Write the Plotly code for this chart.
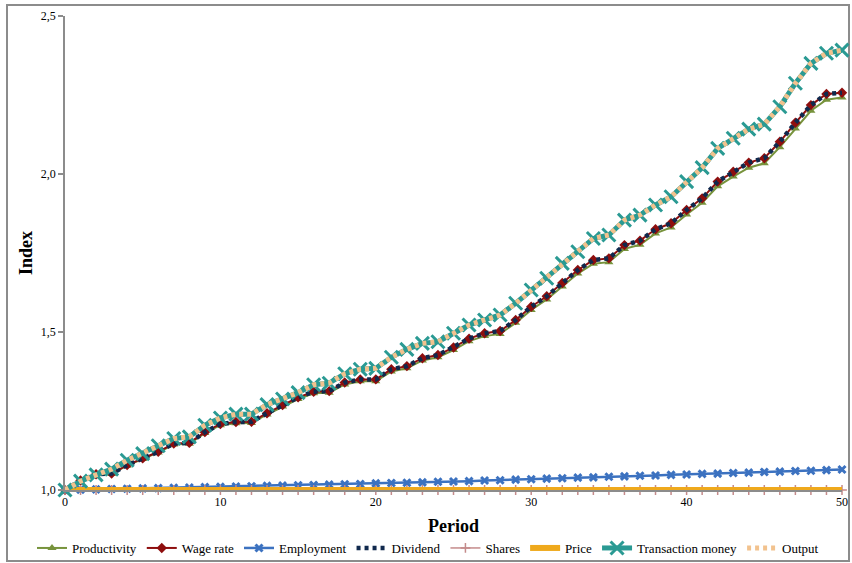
import plotly.graph_objects as go

periods = list(range(51))

productivity = [1.000, 1.029, 1.049, 1.051, 1.077, 1.098, 1.119, 1.144, 1.146, 1.180,
                1.205, 1.211, 1.212, 1.239, 1.264, 1.288, 1.306, 1.308, 1.334, 1.344,
                1.344, 1.375, 1.385, 1.410, 1.420, 1.443, 1.471, 1.487, 1.494, 1.529,
                1.570, 1.603, 1.644, 1.685, 1.716, 1.721, 1.763, 1.776, 1.812, 1.831,
                1.872, 1.909, 1.961, 1.992, 2.020, 2.034, 2.085, 2.144, 2.200, 2.235,
                2.242]

wage_rate = [1.000, 1.030, 1.050, 1.052, 1.079, 1.100, 1.121, 1.147, 1.149, 1.183,
             1.209, 1.215, 1.216, 1.243, 1.269, 1.293, 1.311, 1.313, 1.340, 1.350,
             1.350, 1.382, 1.392, 1.417, 1.427, 1.451, 1.479, 1.496, 1.503, 1.538,
             1.580, 1.613, 1.655, 1.696, 1.728, 1.733, 1.775, 1.789, 1.825, 1.844,
             1.886, 1.923, 1.976, 2.007, 2.036, 2.050, 2.102, 2.162, 2.218, 2.253,
             2.257]

employment = [1.000, 1.001, 1.002, 1.003, 1.004, 1.005, 1.006, 1.007, 1.008, 1.009,
              1.010, 1.011, 1.012, 1.013, 1.014, 1.015, 1.016, 1.017, 1.018, 1.019,
              1.021, 1.022, 1.023, 1.024, 1.026, 1.027, 1.028, 1.030, 1.031, 1.033,
              1.034, 1.036, 1.037, 1.039, 1.040, 1.042, 1.043, 1.045, 1.046, 1.048,
              1.049, 1.051, 1.052, 1.054, 1.055, 1.057, 1.058, 1.060, 1.061, 1.063,
              1.065]

dividend = [1.000, 1.030, 1.050, 1.052, 1.079, 1.100, 1.121, 1.147, 1.149, 1.183,
            1.209, 1.215, 1.216, 1.243, 1.269, 1.293, 1.311, 1.313, 1.340, 1.350,
            1.350, 1.382, 1.392, 1.417, 1.427, 1.451, 1.479, 1.496, 1.503, 1.538,
            1.580, 1.613, 1.655, 1.696, 1.728, 1.733, 1.775, 1.789, 1.825, 1.844,
            1.886, 1.923, 1.976, 2.007, 2.036, 2.050, 2.102, 2.162, 2.218, 2.253,
            2.257]

shares = [1.0] * 51
price = [1.0] * 51

transaction_money = [1.000, 1.028, 1.048, 1.066, 1.094, 1.115, 1.140, 1.163, 1.168, 1.205,
                     1.228, 1.240, 1.240, 1.270, 1.288, 1.308, 1.333, 1.338, 1.368, 1.382,
                     1.385, 1.420, 1.445, 1.464, 1.469, 1.496, 1.522, 1.538, 1.554, 1.591,
                     1.633, 1.670, 1.717, 1.754, 1.796, 1.807, 1.854, 1.870, 1.902, 1.928,
                     1.976, 2.020, 2.081, 2.113, 2.142, 2.158, 2.213, 2.287, 2.350, 2.382,
                     2.392]

output = [1.000, 1.028, 1.048, 1.066, 1.094, 1.115, 1.140, 1.163, 1.168, 1.205,
          1.228, 1.240, 1.240, 1.270, 1.288, 1.308, 1.333, 1.338, 1.368, 1.382,
          1.385, 1.420, 1.445, 1.464, 1.469, 1.496, 1.522, 1.538, 1.554, 1.591,
          1.633, 1.670, 1.717, 1.754, 1.796, 1.807, 1.854, 1.870, 1.902, 1.928,
          1.976, 2.020, 2.081, 2.113, 2.142, 2.158, 2.213, 2.287, 2.350, 2.382,
          2.392]

FONT = "Liberation Serif, Times New Roman, serif"

fig = go.Figure()

fig.add_trace(go.Scatter(
    x=periods, y=productivity, name="Productivity", mode="lines+markers",
    line=dict(color="#77933C", width=2),
    marker=dict(symbol="triangle-up", size=8, color="#77933C"),
    cliponaxis=False))

fig.add_trace(go.Scatter(
    x=periods, y=wage_rate, name="Wage rate", mode="lines+markers",
    line=dict(color="#8E0E0E", width=2),
    marker=dict(symbol="diamond", size=8, color="#8E0E0E"),
    cliponaxis=False))

fig.add_trace(go.Scatter(
    x=periods, y=employment, name="Employment", mode="lines+markers",
    line=dict(color="#3C72C0", width=2.5),
    marker=dict(symbol="x-thin", size=7, color="#3C72C0",
                line=dict(width=3, color="#3C72C0")),
    cliponaxis=False))

fig.add_trace(go.Scatter(
    x=periods, y=dividend, name="Dividend", mode="lines",
    line=dict(color="#10294D", width=4.5, dash="4px,4px"),
    cliponaxis=False))

fig.add_trace(go.Scatter(
    x=periods, y=shares, name="Shares", mode="lines+markers",
    line=dict(color="#C48B8B", width=1.5),
    marker=dict(symbol="cross-thin", size=7, color="#C48B8B",
                line=dict(width=1.5, color="#C48B8B")),
    cliponaxis=False))

fig.add_trace(go.Scatter(
    x=periods, y=price, name="Price", mode="lines",
    line=dict(color="#EFA91C", width=6),
    cliponaxis=False))

fig.add_trace(go.Scatter(
    x=periods, y=transaction_money, name="Transaction money", mode="lines+markers",
    line=dict(color="#2A9A93", width=5),
    marker=dict(symbol="x-thin", size=13, color="#2A9A93",
                line=dict(width=3, color="#2A9A93")),
    cliponaxis=False))

fig.add_trace(go.Scatter(
    x=periods, y=output, name="Output", mode="lines",
    line=dict(color="#F2C28E", width=5, dash="4px,4px"),
    cliponaxis=False))

# plot area: x 65..842, y 16..490 in a 852x563 page
L, R, T, B = 65, 10, 16, 73
W, H = 852 - L - R, 563 - T - B

def px_to_paper_x(px):
    return (px - L) / W

def px_to_paper_y(py):
    return (563 - B - py) / H

fig.add_shape(type="rect", xref="paper", yref="paper",
              x0=px_to_paper_x(7), x1=px_to_paper_x(849),
              y0=px_to_paper_y(561), y1=px_to_paper_y(5),
              line=dict(color="#8C8C8C", width=2), fillcolor="rgba(0,0,0,0)",
              layer="below")

fig.update_layout(
    width=852, height=563,
    margin=dict(l=L, r=R, t=T, b=B, autoexpand=False),
    paper_bgcolor="white", plot_bgcolor="white",
    separators=", ",
    font=dict(family=FONT, size=12, color="black"),
    showlegend=True,
    legend=dict(orientation="h", x=px_to_paper_x(32), xanchor="left",
                y=px_to_paper_y(533), yanchor="top",
                font=dict(family=FONT, size=13, color="black"),
                itemwidth=30, bgcolor="rgba(0,0,0,0)",
                traceorder="normal"),
    xaxis=dict(range=[0, 50], dtick=10, tick0=0, showgrid=False, zeroline=False,
               showline=True, linecolor="#8C8C8C", linewidth=1.5, ticks="",
               tickfont=dict(family=FONT, size=12, color="black"),
               title=dict(text="<b>Period</b>", standoff=11,
                          font=dict(family=FONT, size=18, color="black"))),
    yaxis=dict(range=[1.0, 2.5], tickvals=[1.0, 1.5, 2.0, 2.5], tickformat=".1f",
               showgrid=False, zeroline=False,
               showline=True, linecolor="#8C8C8C", linewidth=1.5,
               ticks="outside", ticklen=5, tickcolor="#8C8C8C", tickwidth=1.5,
               tickfont=dict(family=FONT, size=12, color="black"),
               title=dict(text="<b>Index</b>", standoff=4,
                          font=dict(family=FONT, size=18, color="black"))),
)

fig.write_html("out.html")
